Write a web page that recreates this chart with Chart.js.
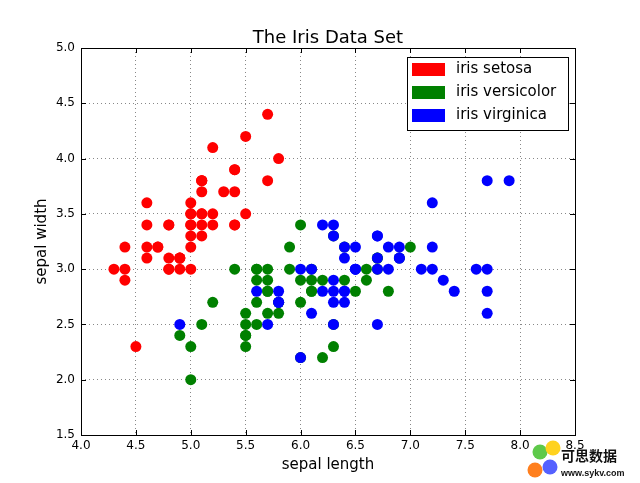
<!DOCTYPE html>
<html>
<head>
<meta charset="utf-8">
<script src="https://cdn.jsdelivr.net/npm/chart.js@4"></script>
<style>
  html, body { margin: 0; padding: 0; background: #fff; }
  #wrap { width: 640px; height: 483px; position: relative; }
</style>
</head>
<body>
<div id="wrap"><canvas id="c"></canvas></div>
<script>
// sepal length / sepal width per species
const setosaX = [5.1,4.9,4.7,4.6,5.0,5.4,4.6,5.0,4.4,4.9,5.4,4.8,4.8,4.3,5.8,5.7,5.4,5.1,5.7,5.1,5.4,5.1,4.6,5.1,4.8,5.0,5.0,5.2,5.2,4.7,4.8,5.4,5.2,5.5,4.9,5.0,5.5,4.9,4.4,5.1,5.0,4.5,4.4,5.0,5.1,4.8,5.1,4.6,5.3,5.0];
const setosaY = [3.5,3.0,3.2,3.1,3.6,3.9,3.4,3.4,2.9,3.1,3.7,3.4,3.0,3.0,4.0,4.4,3.9,3.5,3.8,3.8,3.4,3.7,3.6,3.3,3.4,3.0,3.4,3.5,3.4,3.2,3.1,3.4,4.1,4.2,3.1,3.2,3.5,3.1,3.0,3.4,3.5,2.3,3.2,3.5,3.8,3.0,3.8,3.2,3.7,3.3];
const versicolorX = [7.0,6.4,6.9,5.5,6.5,5.7,6.3,4.9,6.6,5.2,5.0,5.9,6.0,6.1,5.6,6.7,5.6,5.8,6.2,5.6,5.9,6.1,6.3,6.1,6.4,6.6,6.8,6.7,6.0,5.7,5.5,5.5,5.8,6.0,5.4,6.0,6.7,6.3,5.6,5.5,5.5,6.1,5.8,5.0,5.6,5.7,5.7,6.2,5.1,5.7];
const versicolorY = [3.2,3.2,3.1,2.3,2.8,2.8,3.3,2.4,2.9,2.7,2.0,3.0,2.2,2.9,2.9,3.1,3.0,2.7,2.2,2.5,3.2,2.8,2.5,2.8,2.9,3.0,2.8,3.0,2.9,2.6,2.4,2.4,2.7,2.7,3.0,3.4,3.1,2.3,3.0,2.5,2.6,3.0,2.6,2.3,2.7,3.0,2.9,2.9,2.5,2.8];
const virginicaX = [6.3,5.8,7.1,6.3,6.5,7.6,4.9,7.3,6.7,7.2,6.5,6.4,6.8,5.7,5.8,6.4,6.5,7.7,7.7,6.0,6.9,5.6,7.7,6.3,6.7,7.2,6.2,6.1,6.4,7.2,7.4,7.9,6.4,6.3,6.1,7.7,6.3,6.4,6.0,6.9,6.7,6.9,5.8,6.8,6.7,6.7,6.3,6.5,6.2];
const virginicaY = [3.3,2.7,3.0,2.9,3.0,3.0,2.5,2.9,2.5,3.6,3.2,2.7,3.0,2.5,2.8,3.2,3.0,3.8,2.6,2.2,3.2,2.8,2.8,2.7,3.3,3.2,2.8,3.0,2.8,3.0,2.8,3.8,2.8,2.8,2.6,3.0,3.4,3.1,3.0,3.1,3.1,3.1,2.7,3.2,3.3,3.0,2.5,3.0,3.4];

const speciesNames = ['iris setosa', 'iris versicolor', 'iris virginica'];
const speciesColors = ['#ff0000', '#008000', '#0000ff'];

const xTicks = [4.0, 4.5, 5.0, 5.5, 6.0, 6.5, 7.0, 7.5, 8.0, 8.5];
const yTicks = [1.5, 2.0, 2.5, 3.0, 3.5, 4.0, 4.5, 5.0];

const FONT = 'DejaVu Sans';

const toPoints = (xs, ys) => xs.map((x, i) => ({x: x, y: ys[i]}));

// later species are painted on top, as in the original
const makeSet = (i, xs, ys) => ({
  label: speciesNames[i],
  data: toPoints(xs, ys),
  backgroundColor: speciesColors[i],
  borderWidth: 0,
  pointRadius: 5.5,
  pointHoverRadius: 5.5,
  order: 2 - i
});

// frame, inside tick marks, title, legend and watermark
const decor = {
  id: 'decor',
  afterDatasetsDraw(chart) {
    const ctx = chart.ctx;
    const a = chart.chartArea;
    const sx = chart.scales.x, sy = chart.scales.y;
    ctx.save();
    ctx.strokeStyle = '#000';
    ctx.lineWidth = 1;
    ctx.beginPath();
    xTicks.forEach(v => {
      const px = Math.round(sx.getPixelForValue(v)) + 0.5;
      ctx.moveTo(px, a.bottom); ctx.lineTo(px, a.bottom - 5);
      ctx.moveTo(px, a.top); ctx.lineTo(px, a.top + 5);
    });
    yTicks.forEach(v => {
      const py = Math.round(sy.getPixelForValue(v)) + 0.5;
      ctx.moveTo(a.left, py); ctx.lineTo(a.left + 5, py);
      ctx.moveTo(a.right, py); ctx.lineTo(a.right - 5, py);
    });
    ctx.stroke();
    ctx.strokeRect(Math.round(a.left) + 0.5, Math.round(a.top) + 0.5,
                   Math.round(a.right - a.left), Math.round(a.bottom - a.top));

    // title
    ctx.fillStyle = '#000';
    ctx.font = '18px "' + FONT + '"';
    ctx.textAlign = 'center';
    ctx.textBaseline = 'alphabetic';
    ctx.fillText('The Iris Data Set', (a.left + a.right) / 2, 43);

    // legend
    const lx = 407, ly = 57, lw = 161, lh = 73;
    ctx.fillStyle = '#fff';
    ctx.fillRect(lx, ly, lw, lh);
    ctx.strokeStyle = '#000';
    ctx.strokeRect(lx + 0.5, ly + 0.5, lw, lh);
    ctx.font = '15px "' + FONT + '"';
    ctx.textAlign = 'left';
    ctx.textBaseline = 'middle';
    chart.data.datasets.forEach((ds, i) => {
      const cy = 69 + i * 23;
      ctx.fillStyle = ds.backgroundColor;
      ctx.fillRect(412, cy - 6, 33, 13);
      ctx.fillStyle = '#000';
      ctx.fillText(ds.label, 456, cy);
    });

    // watermark
    const wm = [['#5ec94a', 540, 452], ['#ffd21f', 553, 448], ['#ff7f1e', 535, 470], ['#5561ff', 550, 467]];
    wm.forEach(w => {
      ctx.fillStyle = w[0];
      ctx.beginPath();
      ctx.arc(w[1], w[2], 7.5, 0, Math.PI * 2);
      ctx.fill();
    });
    ctx.fillStyle = '#111';
    ctx.font = 'bold 14px "Noto Sans CJK SC"';
    ctx.textBaseline = 'alphabetic';
    ctx.fillText('可思数据', 561, 461);
    ctx.font = 'bold 9px "Liberation Sans"';
    ctx.fillText('www.sykv.com', 561, 476);
    ctx.restore();
  }
};

const config = {
  type: 'scatter',
  data: {
    datasets: [
      makeSet(0, setosaX, setosaY),
      makeSet(1, versicolorX, versicolorY),
      makeSet(2, virginicaX, virginicaY)
    ]
  },
  options: {
    responsive: true,
    maintainAspectRatio: false,
    animation: false,
    layout: { padding: { top: 48, right: 65, bottom: 0, left: 0 } },
    plugins: {
      legend: { display: false },
      tooltip: { enabled: false }
    },
    scales: {
      x: {
        type: 'linear',
        min: 4.0,
        max: 8.5,
        afterBuildTicks: scale => { scale.ticks = xTicks.map(v => ({value: v})); },
        afterFit: scale => { scale.height = 48; },
        ticks: {
          padding: 4,
          color: '#000',
          font: { family: FONT, size: 12 },
          callback: v => v.toFixed(1)
        },
        grid: { color: '#888', lineWidth: 1, drawTicks: false },
        border: { display: false, dash: [1, 3] },
        title: {
          display: true,
          text: 'sepal length',
          color: '#000',
          font: { family: FONT, size: 15 },
          padding: { top: 0, bottom: 9 }
        }
      },
      y: {
        type: 'linear',
        min: 1.5,
        max: 5.0,
        afterBuildTicks: scale => { scale.ticks = yTicks.map(v => ({value: v})); },
        afterFit: scale => { scale.width = 81; },
        ticks: {
          padding: 6,
          color: '#000',
          font: { family: FONT, size: 12 },
          callback: v => v.toFixed(1)
        },
        grid: { color: '#888', lineWidth: 1, drawTicks: false },
        border: { display: false, dash: [1, 3] },
        title: {
          display: true,
          text: 'sepal width',
          color: '#000',
          font: { family: FONT, size: 15 },
          padding: { top: 33, bottom: 0 }
        }
      }
    }
  },
  plugins: [decor]
};

const chart = new Chart(document.getElementById('c'), config);
</script>
</body>
</html>
